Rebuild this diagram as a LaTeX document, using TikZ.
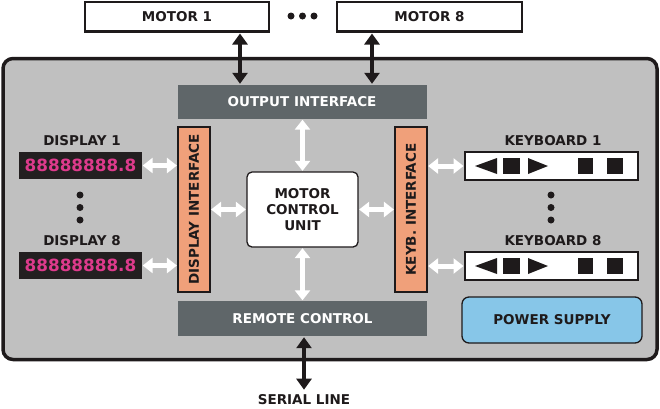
\documentclass[tikz,border=0pt]{standalone}
\usepackage{fontspec}
\setmainfont{DejaVu Sans}
\usetikzlibrary{arrows.meta}
\definecolor{bggray}{RGB}{192,192,192}
\definecolor{darkbox}{RGB}{95,102,105}
\definecolor{orangebox}{RGB}{240,160,122}
\definecolor{bluebox}{RGB}{135,198,232}
\definecolor{ledpink}{RGB}{222,58,140}
\definecolor{ledbg}{RGB}{35,31,32}
\definecolor{ink}{RGB}{30,26,27}
\begin{document}
\begin{tikzpicture}[x=1pt,y=-1pt,
  font=\bfseries\fontsize{13.5}{16}\selectfont, text=ink,
  motorbox/.style={draw=ink, line width=2.5pt, fill=white, inner sep=0pt},
  darkbar/.style={fill=darkbox, text=white, inner sep=0pt, minimum width=249pt, minimum height=34pt},
  ifbar/.style={draw=ink, line width=1.2pt, fill=orangebox, inner sep=0pt, minimum width=32pt, minimum height=165pt},
  ledbox/.style={fill=ledbg, text=ledpink, inner sep=0pt, minimum width=123pt, minimum height=27pt, font=\bfseries\fontsize{16.8}{18}\selectfont},
  kbbox/.style={draw=ink, line width=2pt, fill=white, inner sep=0pt, minimum width=173pt, minimum height=28pt},
  lbl/.style={inner sep=0pt},
  dot/.style={fill=ink, circle, inner sep=0pt, minimum size=7pt},
  warrow/.style={draw=white, line width=5pt, {Triangle[length=10pt,width=15pt]}-{Triangle[length=10pt,width=15pt]}, shorten <=0.5pt, shorten >=0.5pt},
  barrow/.style={draw=ink, line width=4.5pt, {Triangle[length=11pt,width=15pt]}-{Triangle[length=11pt,width=15pt]}, shorten <=1pt, shorten >=1pt}
]
\useasboundingbox (0,0) rectangle (660,408);

% main housing
\node[draw=ink, line width=3.5pt, rounded corners=10pt, fill=bggray, inner sep=0pt,
      minimum width=654pt, minimum height=301pt] (main) at (330,209) {};

% motors
\node[motorbox, minimum width=184pt, minimum height=29.5pt] (m1) at (177,16.5) {MOTOR 1};
\node[motorbox, minimum width=185pt, minimum height=29.5pt] (m8) at (429.5,16.5) {MOTOR 8};
\node[dot] (md1) at (291,16) {};
\node[dot] (md2) at (302.5,16) {};
\node[dot] (md3) at (314,16) {};

% interfaces
\node[darkbar] (oif) at (302,102) {OUTPUT INTERFACE};
\node[darkbar, minimum height=35pt] (rc) at (302.5,318.5) {REMOTE CONTROL};
\node[ifbar] (dif) at (194,209.5) {};
\node[lbl, rotate=90] (diflbl) at (dif.center) {DISPLAY INTERFACE};
\node[ifbar] (kif) at (411,209.5) {};
\node[lbl, rotate=90] (kiflbl) at (kif.center) {KEYB. INTERFACE};

% motor control unit
\node[draw=ink, line width=1.3pt, rounded corners=5pt, fill=white, inner sep=0pt,
      minimum width=111pt, minimum height=75pt, align=center] (mcu) at (302.5,209.5)
      {MOTOR\\CONTROL\\UNIT};

% power supply
\node[draw=ink, line width=1.3pt, rounded corners=7pt, fill=bluebox, inner sep=0pt,
      minimum width=180pt, minimum height=46pt] (ps) at (552,320) {POWER SUPPLY};

% displays
\node[lbl] (dl1) at (82,141) {DISPLAY 1};
\node[ledbox] (d1) at (80.5,165.5) {88888888.8};
\node[dot] (dd1) at (80,195) {};
\node[dot] (dd2) at (80,207.5) {};
\node[dot] (dd3) at (80,220) {};
\node[lbl] (dl8) at (82,240.5) {DISPLAY 8};
\node[ledbox] (d8) at (80.5,265.5) {88888888.8};

% keyboards
\node[lbl] (kl1) at (553,141) {KEYBOARD 1};
\node[kbbox] (kb1) at (551.5,166) {};
\node[dot] (kd1) at (551,195) {};
\node[dot] (kd2) at (551,207.5) {};
\node[dot] (kd3) at (551,220) {};
\node[lbl] (kl8) at (553,241) {KEYBOARD 8};
\node[kbbox] (kb8) at (551.5,266) {};

\foreach \k in {kb1,kb8}{
  \begin{scope}[shift={(\k.center)}]
    \fill[ink] (-76.5,0) -- (-54.5,-8) -- (-54.5,8) -- cycle;
    \fill[ink] (-48.5,-8) rectangle (-31.5,8);
    \fill[ink] (-23.5,-8) -- (-3.5,0) -- (-23.5,8) -- cycle;
    \fill[ink] (26.5,-8) rectangle (41.5,8);
    \fill[ink] (55.5,-8) rectangle (71.5,8);
  \end{scope}
}

% serial line label
\node[lbl] (sl) at (304,400) {SERIAL LINE};

% white arrows
\draw[warrow] (d1.east) -- (d1.east -| dif.west);
\draw[warrow] (d8.east) -- (d8.east -| dif.west);
\draw[warrow] (dif.east) -- (mcu.west);
\draw[warrow] (mcu.east) -- (kif.west);
\draw[warrow] (kif.east |- kb1.west) -- (kb1.west);
\draw[warrow] (kif.east |- kb8.west) -- (kb8.west);
\draw[warrow] (mcu.north) -- (mcu.north |- oif.south);
\draw[warrow] (mcu.south) -- (mcu.south |- rc.north);

% black arrows
\coordinate (a1) at (240,0);
\coordinate (a8) at (372,0);
\draw[barrow] (a1 |- m1.south) -- (a1 |- oif.north);
\draw[barrow] (a8 |- m8.south) -- (a8 |- oif.north);
\draw[barrow, shorten >=5pt] (rc.south -| sl.north) -- (sl.north);
\end{tikzpicture}
\end{document}
